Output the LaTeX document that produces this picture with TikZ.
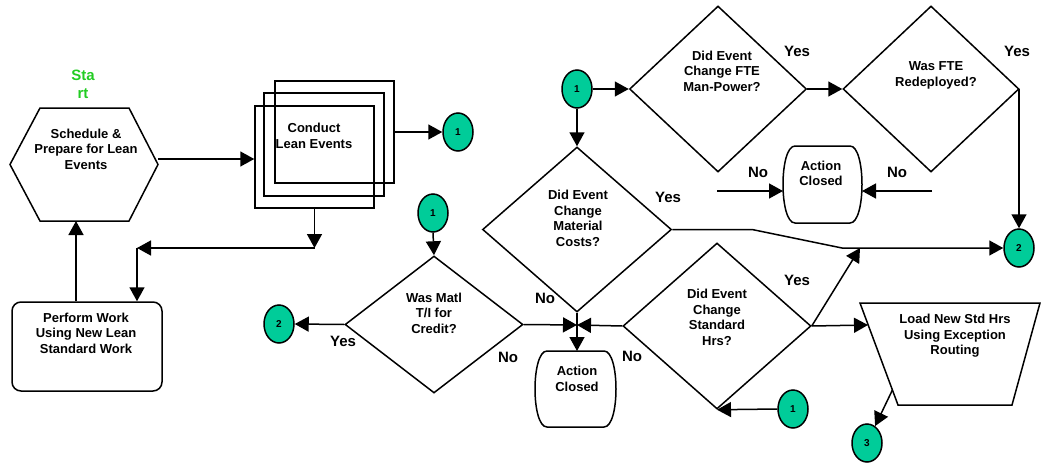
\documentclass[tikz,border=0pt]{standalone}
\usepackage{fontspec}
\setmainfont{Liberation Sans}
\usetikzlibrary{arrows.meta,shapes.geometric,calc}
\definecolor{conncol}{HTML}{00CC99}
\definecolor{startgreen}{HTML}{22CC22}
\begin{document}
\begin{tikzpicture}[x=1pt,y=-1pt,
  line width=1.5pt, line join=miter,
  >={Triangle[length=14pt,width=15pt]},
  txt/.style={font=\fontsize{13}{15.5}\selectfont\bfseries, align=center, inner sep=0pt},
  lbl/.style={font=\fontsize{15}{17}\selectfont\bfseries, inner sep=0pt},
  conn/.style={ellipse, draw, fill=conncol, minimum width=30pt, minimum height=38pt, inner sep=0pt, font=\fontsize{10}{12}\selectfont\bfseries},
  dia/.style={diamond, draw, inner sep=0pt},
  frame/.style={inner sep=0pt, outer sep=0pt},
  boxx/.style={draw, inner sep=0pt}]
\useasboundingbox (0,0) rectangle (1042,463);

% Start hexagon
\node[frame, minimum width=148pt, minimum height=113pt] (hex) at (84,164.5) {};
\draw (10,164.5) -- (40,108) -- (129,108) -- (158,164.5) -- (129,221) -- (40,221) -- cycle;
\node[txt] (hext) at (86,149) {Schedule \&\\Prepare for Lean\\Events};
\node[font=\fontsize{15}{18}\selectfont\bfseries, text=startgreen, align=center, inner sep=0pt] (start) at (83,84) {Sta\\rt};

% Conduct Lean Events (triple box)
\node[boxx, minimum width=119pt, minimum height=102pt] (back) at (334.5,132) {};
\node[boxx, minimum width=120pt, minimum height=103pt] (mid) at (324,144.5) {};
\node[boxx, minimum width=119pt, minimum height=102pt] (front) at (314.5,157) {};
\node[txt] (frontt) at (314,136) {Conduct\\Lean Events};

% Perform work
\node[boxx, rounded corners=9pt, minimum width=150pt, minimum height=89pt] (perf) at (87,346.5) {};
\node[txt] (perft) at (86,333) {Perform Work\\Using New Lean\\Standard Work};

% Connectors
\node[conn] (c1a) at (458,132) {1};
\node[conn] (c1b) at (433,213) {1};
\node[conn] (c2a) at (279,324) {2};
\node[conn] (c1c) at (577,89) {1};
\node[conn] (c2b) at (1019,248) {2};
\node[conn] (c1d) at (793,409) {1};
\node[conn] (c3) at (867,443) {3};

% Diamonds
\node[dia, minimum width=178pt, minimum height=137pt] (matl) at (434,324.5) {};
\node[txt] (matlt) at (434,313) {Was Matl\\T/I for\\Credit?};
\node[dia, minimum width=189pt, minimum height=165pt] (mat) at (577,229.5) {};
\node[txt] (matt) at (578,218.5) {Did Event\\Change\\Material\\Costs?};
\node[dia, minimum width=188pt, minimum height=166pt] (std) at (717,326) {};
\node[txt] (stdt) at (717,317.5) {Did Event\\Change\\Standard\\Hrs?};
\node[dia, minimum width=177pt, minimum height=166pt] (fte) at (718,89) {};
\node[txt] (ftet) at (722,71) {Did Event\\Change FTE\\Man-Power?};
\node[dia, minimum width=176pt, minimum height=166pt] (wasfte) at (931,89) {};
\node[txt] (wasftet) at (936,75.5) {Was FTE\\Redeployed?};

% Action closed (top)
\node[frame, minimum width=79pt, minimum height=77pt] (actA) at (822.5,184.5) {};
\draw (795,146) -- (850,146) .. controls (866,146) and (866,223) .. (850,223) -- (795,223) .. controls (779,223) and (779,146) .. (795,146) -- cycle;
\node[txt] (actAt) at (821,173.5) {Action\\Closed};

% Action closed (bottom)
\node[frame, minimum width=81pt, minimum height=76pt] (actB) at (575.5,389) {};
\draw (547,351) -- (604,351) .. controls (620,351) and (620,427) .. (604,427) -- (547,427) .. controls (531,427) and (531,351) .. (547,351) -- cycle;
\node[txt] (actBt) at (577,379) {Action\\Closed};

% Trapezoid
\node[frame, minimum width=180pt, minimum height=102pt] (tz) at (950,354) {};
\draw (860,303) -- (1040,303) -- (1012,405) -- (898,405) -- cycle;
\node[txt] (tzt) at (955,336) {Load New Std Hrs\\Using Exception\\Routing};

% Coordinates
\coordinate (K) at (314.5,248);
\coordinate (L) at (137,248);
\coordinate (J) at (577,325);
\coordinate (tzL) at (868,325);
\coordinate (tzE) at (892.4,390);
\coordinate (m1) at (752,229.5);
\coordinate (m2) at (842,248);
\coordinate (yup) at (860,248);
\coordinate (nA1) at (717,191);
\coordinate (nA2) at (932,191);

% Arrows
\draw[->] (hex.east |- 0,159) -- (front.west |- 0,159);
\draw[->] (back.east) -- (c1a.west);
\draw[->] (front.south) -- (K);
\draw[->] (K) -- (L);
\draw[->] (L) -- (L |- perf.north);
\draw[->] ([xshift=-11pt]perf.north) -- ([xshift=-11pt]perf.north |- hex.south);

\draw[->] (c1b.south) -- (matl.north);
\draw[->] (matl.west) -- (c2a.east);
\draw[->] (matl.east) -- (J);
\draw[->] (std.west) -- (J);
\draw[->] (mat.south) -- (actB.north -| J);
\draw[->] (mat.east) -- (m1) -- (m2) -- (c2b.west);
\draw[->] (std.east) -- (yup);
\draw[->] (std.east) -- (tzL);
\draw[->] (tzE) -- (c3);
\draw[->] (c1d.west) -- (std.south);

\draw[->] (c1c.east) -- (fte.west);
\draw[->] (c1c.south) -- (mat.north);
\draw[->] (fte.east) -- (wasfte.west);
\draw[->] (c2b.north |- wasfte.east) -- (c2b.north);
\draw[->] (nA1) -- (nA1 -| actA.west);
\draw[->] (nA2) -- (nA2 -| actA.east);

% Labels
\node[lbl] (y1) at (343,341) {Yes};
\node[lbl] (n1) at (508,357) {No};
\node[lbl] (n2) at (545,298) {No};
\node[lbl] (y2) at (668,197) {Yes};
\node[lbl] (n3) at (632,356) {No};
\node[lbl] (y3) at (797,280) {Yes};
\node[lbl] (y4) at (797,51) {Yes};
\node[lbl] (y5) at (1017,51) {Yes};
\node[lbl] (n4) at (758,172) {No};
\node[lbl] (n5) at (897,172) {No};
\end{tikzpicture}
\end{document}
